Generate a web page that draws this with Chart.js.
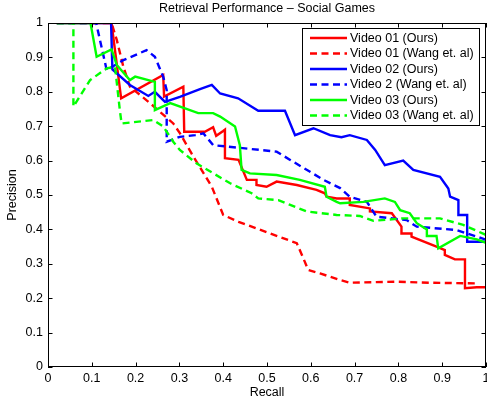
<!DOCTYPE html>
<html>
<head>
<meta charset="utf-8">
<script src="https://cdn.jsdelivr.net/npm/chart.js@4.4.0/dist/chart.umd.min.js"></script>
<style>
html,body{margin:0;padding:0;background:#fff;}
canvas{display:block;}
</style>
</head>
<body>
<canvas id="c" width="487" height="405"></canvas>
<script>
// ---- Data ----
const seriesLabels = ["Video 01 (Ours)", "Video 01 (Wang et. al)", "Video 02 (Ours)", "Video 2 (Wang et. al)", "Video 03 (Ours)", "Video 03 (Wang et. al)"];

const v01OursRecall = [0.02,0.145,0.167,0.263,0.265,0.309,0.311,0.358,0.377,0.384,0.400,0.404,0.404,0.435,0.454,0.476,0.476,0.499,0.522,0.568,0.613,0.632,0.636,0.659,0.689,0.689,0.735,0.735,0.785,0.807,0.807,0.830,0.830,0.887,0.906,0.906,0.929,0.952,0.952,0.979,1.0];
const v01OursPrec   = [1,1,0.781,0.849,0.786,0.815,0.684,0.684,0.697,0.672,0.686,0.690,0.607,0.602,0.544,0.544,0.529,0.524,0.539,0.529,0.515,0.505,0.495,0.490,0.490,0.471,0.461,0.452,0.447,0.408,0.388,0.388,0.379,0.350,0.340,0.326,0.313,0.313,0.229,0.232,0.232];

const v01WangRecall = [0.02,0.145,0.157,0.172,0.187,0.233,0.286,0.301,0.328,0.374,0.400,0.435,0.568,0.583,0.594,0.621,0.667,0.689,0.796,0.872,0.975];
const v01WangPrec   = [1,1,0.951,0.873,0.815,0.767,0.708,0.680,0.620,0.524,0.442,0.422,0.360,0.316,0.282,0.272,0.253,0.245,0.248,0.245,0.243];

const v02OursRecall = [0.02,0.144,0.147,0.187,0.229,0.244,0.267,0.301,0.347,0.374,0.393,0.434,0.480,0.541,0.564,0.606,0.644,0.670,0.689,0.728,0.747,0.769,0.811,0.834,0.895,0.914,0.918,0.937,0.937,0.957,0.957,1.0];
const v02OursPrec   = [1,1,0.865,0.820,0.788,0.800,0.771,0.785,0.808,0.820,0.795,0.781,0.745,0.745,0.674,0.694,0.674,0.668,0.674,0.660,0.631,0.587,0.600,0.573,0.553,0.519,0.495,0.485,0.442,0.442,0.364,0.364];

const v02WangRecall = [0.02,0.110,0.134,0.172,0.225,0.244,0.263,0.271,0.271,0.301,0.336,0.355,0.377,0.522,0.553,0.629,0.667,0.689,0.728,0.750,0.819,0.842,0.933,0.979,1.0];
const v02WangPrec   = [1,1,0.863,0.892,0.921,0.902,0.844,0.805,0.655,0.669,0.674,0.679,0.645,0.626,0.602,0.544,0.520,0.495,0.480,0.437,0.427,0.408,0.398,0.379,0.370];

const v03OursRecall = [0.02,0.097,0.111,0.145,0.157,0.187,0.199,0.244,0.244,0.279,0.343,0.377,0.393,0.427,0.438,0.442,0.461,0.522,0.575,0.632,0.636,0.659,0.667,0.720,0.769,0.792,0.804,0.826,0.842,0.865,0.865,0.887,0.891,0.941,0.979,1.0];
const v03OursPrec   = [1,1,0.902,0.923,0.878,0.834,0.844,0.829,0.747,0.767,0.738,0.738,0.728,0.699,0.645,0.573,0.563,0.558,0.544,0.524,0.495,0.480,0.476,0.480,0.490,0.480,0.456,0.447,0.418,0.400,0.381,0.381,0.345,0.381,0.371,0.361];

const v03WangRecall = [0.02,0.058,0.058,0.096,0.134,0.153,0.164,0.168,0.241,0.263,0.286,0.301,0.339,0.416,0.465,0.480,0.526,0.553,0.591,0.659,0.712,0.743,0.811,0.895,0.948,1.0];
const v03WangPrec   = [1,1,0.757,0.834,0.868,0.873,0.747,0.708,0.718,0.699,0.655,0.631,0.592,0.534,0.505,0.490,0.485,0.471,0.452,0.442,0.439,0.425,0.432,0.432,0.413,0.384];

const axisTicks = [0,0.1,0.2,0.3,0.4,0.5,0.6,0.7,0.8,0.9,1];

// ---- Build ----
const FONT = '"Liberation Sans", Arial, Helvetica, sans-serif';
const DASH = [7, 4.5];
const LW = 2.4;
function pts(r, p){ return r.map((v,i)=>({x:v, y:p[i]})); }

const seriesDefs = [
  {r:v01OursRecall, p:v01OursPrec, color:'#ff0000', dash:[]},
  {r:v01WangRecall, p:v01WangPrec, color:'#ff0000', dash:DASH},
  {r:v02OursRecall, p:v02OursPrec, color:'#0000ff', dash:[]},
  {r:v02WangRecall, p:v02WangPrec, color:'#0000ff', dash:DASH},
  {r:v03OursRecall, p:v03OursPrec, color:'#00ff00', dash:[]},
  {r:v03WangRecall, p:v03WangPrec, color:'#00ff00', dash:DASH},
];

const datasets = seriesDefs.map((s,i)=>({
  label: seriesLabels[i],
  data: pts(s.r, s.p),
  borderColor: s.color,
  backgroundColor: s.color,
  borderDash: s.dash,
  borderWidth: LW,
  pointRadius: 0,
  tension: 0,
  fill: false,
  order: seriesDefs.length - i,
  borderCapStyle: 'butt',
  borderJoinStyle: 'miter'
}));

const fmt = v => String(+Number(v).toFixed(1));

const decor = {
  id: 'decor',
  afterDraw(chart){
    const ctx = chart.ctx;
    const a = chart.chartArea;
    const xs = chart.scales.x, ys = chart.scales.y;
    ctx.save();
    // box
    ctx.strokeStyle = '#000';
    ctx.lineWidth = 1;
    ctx.setLineDash([]);
    ctx.strokeRect(Math.round(a.left)+0.5, Math.round(a.top)+0.5, Math.round(a.right-a.left)-1, Math.round(a.bottom-a.top)-1);
    // inward ticks
    const TL = 4.5;
    ctx.beginPath();
    xs.ticks.forEach(t=>{
      const px = Math.round(xs.getPixelForValue(t.value))+0.5;
      ctx.moveTo(px, a.bottom); ctx.lineTo(px, a.bottom-TL);
      ctx.moveTo(px, a.top); ctx.lineTo(px, a.top+TL);
    });
    ys.ticks.forEach(t=>{
      const py = Math.round(ys.getPixelForValue(t.value))+0.5;
      ctx.moveTo(a.left, py); ctx.lineTo(a.left+TL, py);
      ctx.moveTo(a.right, py); ctx.lineTo(a.right-TL, py);
    });
    ctx.stroke();

    // title & axis labels
    ctx.fillStyle = '#000';
    ctx.font = '12.5px ' + FONT;
    ctx.textAlign = 'center';
    ctx.textBaseline = 'middle';
    ctx.fillText('Retrieval Performance \u2013 Social Games', (a.left+a.right)/2, 9);
    ctx.fillText('Recall', (a.left+a.right)/2, 393);
    ctx.save();
    ctx.translate(13, (a.top+a.bottom)/2);
    ctx.rotate(-Math.PI/2);
    ctx.fillText('Precision', 0, 0);
    ctx.restore();

    // legend box
    const L = 302, T = 28, W = 177, H = 97;
    ctx.fillStyle = '#fff';
    ctx.fillRect(L, T, W, H);
    ctx.strokeStyle = '#000';
    ctx.lineWidth = 1;
    ctx.strokeRect(L+0.5, T+0.5, W, H);
    chart.data.datasets.forEach((ds,i)=>{
      const y = 38 + i*15.5;
      ctx.beginPath();
      ctx.strokeStyle = ds.borderColor;
      ctx.lineWidth = LW;
      ctx.setLineDash(ds.borderDash || []);
      ctx.moveTo(310, y); ctx.lineTo(347, y);
      ctx.stroke();
      ctx.setLineDash([]);
      ctx.fillStyle = '#000';
      ctx.textAlign = 'left';
      ctx.fillText(ds.label, 350, y+0.5);
    });
    ctx.restore();
  }
};

new Chart(document.getElementById('c'), {
  type: 'line',
  data: { datasets },
  options: {
    responsive: false,
    animation: false,
    devicePixelRatio: 1,
    layout: { padding: { top: 23, right: 1, left: 0, bottom: 0 } },
    plugins: { legend: { display: false }, title: { display: false }, tooltip: { enabled: false } },
    scales: {
      x: {
        type: 'linear', min: 0, max: 1,
        grid: { display: false, drawTicks: false },
        border: { display: false },
        ticks: {
          stepSize: 0.1, padding: 4, color: '#000', maxRotation: 0, autoSkip: false,
          font: { family: FONT, size: 12.5 },
          callback: v => fmt(v)
        },
        afterBuildTicks: s => { s.ticks = axisTicks.map(v=>({value:v})); },
        afterFit: s => { s.height = 38; s.paddingLeft = 0; s.paddingRight = 0; }
      },
      y: {
        type: 'linear', min: 0, max: 1,
        grid: { display: false, drawTicks: false },
        border: { display: false },
        ticks: {
          stepSize: 0.1, padding: 5, color: '#000', autoSkip: false,
          font: { family: FONT, size: 12.5 },
          callback: v => fmt(v)
        },
        afterBuildTicks: s => { s.ticks = axisTicks.map(v=>({value:v})); },
        afterFit: s => { s.width = 48; s.paddingTop = 0; s.paddingBottom = 0; }
      }
    }
  },
  plugins: [decor]
});
</script>
</body>
</html>
